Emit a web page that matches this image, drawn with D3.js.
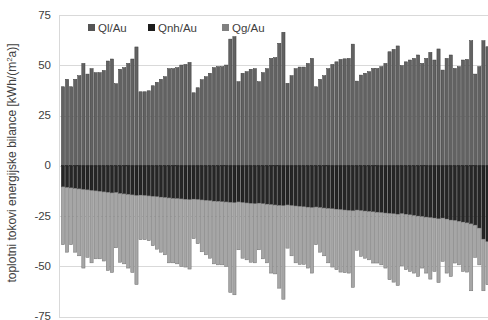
<!DOCTYPE html>
<html>
<head>
<meta charset="utf-8">
<script src="https://cdn.jsdelivr.net/npm/d3@7"></script>
<style>
  body { margin: 0; background: #fff; }
  text { font-family: "Liberation Sans", Arial, sans-serif; fill: #404040; }
</style>
</head>
<body>
<script>
// values, one per building (105 bars)
var ql = [39.3, 43.0, 39.3, 43.0, 44.8, 50.9, 45.6, 48.3, 46.3, 46.3,
  47.4, 52.1, 53.1, 40.8, 48.0, 48.8, 50.9, 53.1, 59.1, 36.8,
  36.8, 37.3, 39.8, 41.5, 43.0, 44.3, 48.3, 48.3, 48.8, 50.1,
  50.4, 51.4, 36.3, 38.8, 42.8, 44.3, 46.0, 48.8, 49.3, 49.3,
  50.1, 63.0, 64.2, 41.8, 46.0, 46.8, 48.0, 48.3, 41.8, 46.3,
  48.3, 53.4, 53.8, 60.9, 66.4, 41.0, 44.8, 48.3, 49.1, 49.1,
  50.9, 53.4, 39.3, 43.0, 44.8, 48.3, 50.4, 51.7, 52.9, 53.2,
  53.4, 60.5, 42.1, 45.1, 46.0, 46.8, 48.4, 48.4, 49.3, 50.9,
  56.7, 57.9, 59.6, 49.8, 51.7, 52.6, 53.4, 55.1, 50.9, 53.4,
  56.4, 52.6, 58.1, 47.6, 53.4, 55.1, 48.4, 49.3, 52.6, 52.9,
  62.2, 45.6, 49.3, 62.2, 59.2];
var qnh = [-10.5, -10.8, -11.0, -11.2, -11.5, -11.8, -12.0, -12.3, -12.5, -12.7,
  -13.0, -13.2, -13.5, -13.3, -13.8, -14.0, -14.2, -14.5, -14.8, -14.6,
  -14.8, -15.0, -15.2, -15.4, -15.6, -15.8, -16.0, -16.2, -16.3, -16.5,
  -16.7, -16.9, -16.6, -16.8, -17.0, -17.2, -17.4, -17.6, -17.7, -17.9,
  -18.0, -18.2, -18.4, -18.0, -18.3, -18.5, -18.7, -18.9, -18.6, -18.9,
  -19.1, -19.3, -19.5, -19.7, -19.9, -19.5, -19.8, -20.0, -20.2, -20.4,
  -20.6, -20.8, -20.5, -20.8, -21.0, -21.2, -21.4, -21.6, -21.8, -22.0,
  -22.2, -22.4, -22.0, -22.3, -22.5, -22.7, -22.9, -23.1, -23.3, -23.5,
  -23.7, -23.9, -24.1, -23.8, -24.1, -24.4, -24.7, -25.0, -25.2, -25.5,
  -25.8, -26.0, -26.4, -26.0, -26.5, -27.0, -27.2, -27.6, -28.0, -28.4,
  -28.9, -29.5, -31.0, -36.5, -37.8];
var qg = [-28.8, -32.2, -28.3, -31.8, -33.3, -39.1, -33.6, -36.0, -33.8, -33.6,
  -34.4, -38.9, -39.6, -27.5, -34.2, -34.8, -36.7, -38.6, -44.3, -22.2,
  -22.0, -22.3, -24.6, -26.1, -27.4, -28.5, -32.3, -32.1, -32.5, -33.6,
  -33.7, -34.5, -19.7, -22.0, -25.8, -27.1, -28.6, -31.2, -31.6, -31.4,
  -32.1, -44.8, -45.8, -23.8, -27.7, -28.3, -29.3, -29.4, -23.2, -27.4,
  -29.2, -34.1, -34.3, -41.2, -46.5, -21.5, -25.0, -28.3, -28.9, -28.7,
  -30.3, -32.6, -18.8, -22.2, -23.8, -27.1, -29.0, -30.1, -31.1, -31.2,
  -31.2, -38.1, -20.1, -22.8, -23.5, -24.1, -25.5, -25.3, -26.0, -27.4,
  -33.0, -34.0, -35.5, -26.0, -27.6, -28.2, -28.7, -30.1, -25.7, -27.9,
  -30.6, -26.6, -31.7, -21.6, -26.9, -28.1, -21.2, -21.7, -24.6, -24.5,
  -33.3, -16.1, -18.3, -25.7, -21.4];
var seriesNames = ["Ql/Au", "Qnh/Au", "Qg/Au"];
var yTicks = [-75, -50, -25, 0, 25, 50, 75];

var fill = ["#626262", "#262626", "#a6a6a6"];
var stroke = ["#3a3a3a", "#0d0d0d", "#6f6f6f"];
var legendFill = ["#555555", "#1c1c1c", "#808080"];

var table = ql.map(function(v, i) {
  return {i: i, "Ql/Au": v, "Qnh/Au": qnh[i], "Qg/Au": qg[i]};
});

var svg = d3.select("body").append("svg").attr("width", 488).attr("height", 320);

var x = d3.scaleBand().domain(d3.range(ql.length)).range([60.5, 490]).padding(0.22);
var y = d3.scaleLinear().domain([-75, 75]).range([316.5, 15]);

// grid
svg.append("g").selectAll("line").data(yTicks).join("line")
  .attr("x1", 59).attr("x2", 488)
  .attr("y1", function(d) { return Math.round(y(d)) + 0.5; })
  .attr("y2", function(d) { return Math.round(y(d)) + 0.5; })
  .attr("stroke", "#d9d9d9").attr("stroke-width", 1);
svg.append("line").attr("x1", 59.5).attr("x2", 59.5).attr("y1", 15).attr("y2", 317)
  .attr("stroke", "#d9d9d9");

// tick labels
svg.append("g").selectAll("text").data(yTicks).join("text")
  .attr("x", 51).attr("y", function(d) { return y(d) + 3.5; })
  .attr("text-anchor", "end").attr("font-size", 11.5)
  .text(function(d) { return d; });

// stacked bars
var stack = d3.stack().keys(seriesNames).offset(d3.stackOffsetDiverging);
var layers = stack(table);

var bars = svg.append("g");
layers.forEach(function(layer, k) {
  bars.append("g").selectAll("rect").data(layer).join("rect")
    .attr("x", function(d) { return x(d.data.i); })
    .attr("width", x.bandwidth())
    .attr("y", function(d) { return y(Math.max(d[0], d[1])); })
    .attr("height", function(d) { return Math.abs(y(d[0]) - y(d[1])); })
    .attr("fill", fill[k])
    .attr("stroke", stroke[k])
    .attr("stroke-width", 0.5);
});

// legend
var legendX = [88, 148, 222];
var legend = svg.append("g");
seriesNames.forEach(function(name, k) {
  legend.append("rect").attr("x", legendX[k]).attr("y", 24)
    .attr("width", 7).attr("height", 7).attr("fill", legendFill[k]);
  legend.append("text").attr("x", legendX[k] + 10).attr("y", 31.5)
    .attr("font-size", 11.5).text(name);
});

// y axis title
var title = svg.append("text")
  .attr("transform", "translate(16,163) rotate(-90)")
  .attr("text-anchor", "middle").attr("font-size", 12);
title.append("tspan").text("toplotni tokovi energijske bilance [kWh/(m");
title.append("tspan").attr("baseline-shift", "super").attr("font-size", 8).text("2");
title.append("tspan").text("a)]");
</script>
</body>
</html>
